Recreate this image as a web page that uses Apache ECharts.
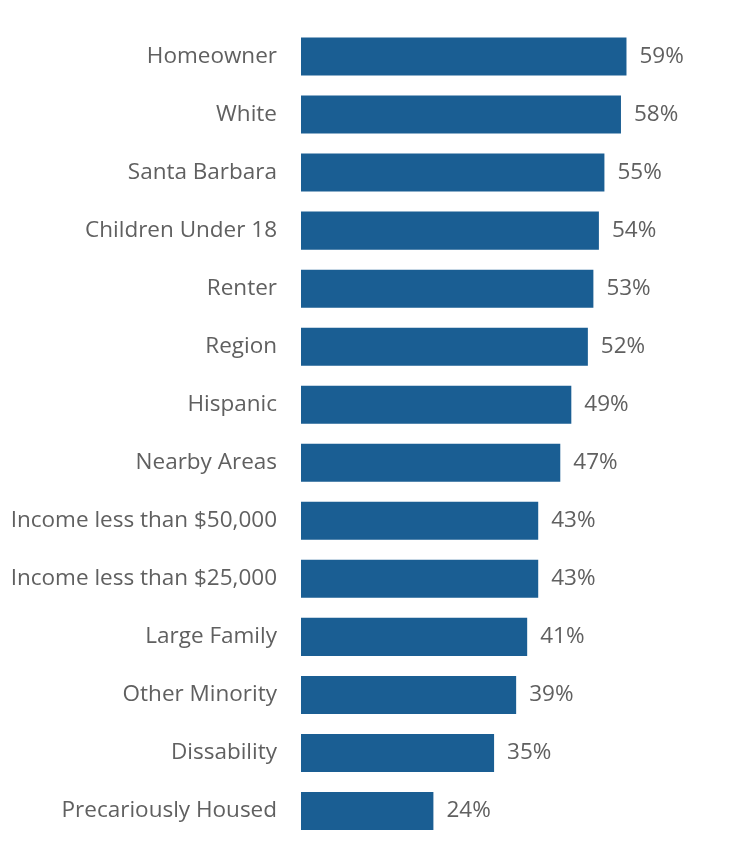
<!DOCTYPE html>
<html>
<head>
<meta charset="utf-8">
<script src="https://cdn.jsdelivr.net/npm/echarts@6/dist/echarts.min.js"></script>
<style>
  html, body { margin: 0; padding: 0; background: #ffffff; }
  #chart { width: 756px; height: 854px; }
</style>
</head>
<body>
<div id="chart"></div>
<script>
// Share of respondents by group (percent)
const categories = [
  'Homeowner', 'White', 'Santa Barbara', 'Children Under 18', 'Renter', 'Region',
  'Hispanic', 'Nearby Areas', 'Income less than $50,000', 'Income less than $25,000',
  'Large Family', 'Other Minority', 'Dissability', 'Precariously Housed'
];
const values = [59, 58, 55, 54, 53, 52, 49, 47, 43, 43, 41, 39, 35, 24];

const chart = echarts.init(document.getElementById('chart'), null, { renderer: 'canvas' });
const font = '"Open Sans", "Noto Sans", sans-serif';

chart.setOption({
  animation: false,
  grid: { left: 301, right: 124, top: 27.5, bottom: 14, containLabel: false },
  xAxis: {
    type: 'value', min: 0, max: 60,
    show: false
  },
  yAxis: {
    type: 'category',
    inverse: true,
    data: categories,
    axisLine: { show: false },
    axisTick: { show: false },
    axisLabel: {
      margin: 24,
      color: '#606060',
      fontFamily: font,
      fontSize: 22.5
    }
  },
  series: [{
    type: 'bar',
    data: values,
    barWidth: '65.5%',
    itemStyle: { color: '#1a5e93' },
    label: {
      show: true,
      position: 'right',
      distance: 13,
      formatter: '{c}%',
      color: '#606060',
      fontFamily: font,
      fontSize: 22.5
    }
  }]
});
</script>
</body>
</html>
